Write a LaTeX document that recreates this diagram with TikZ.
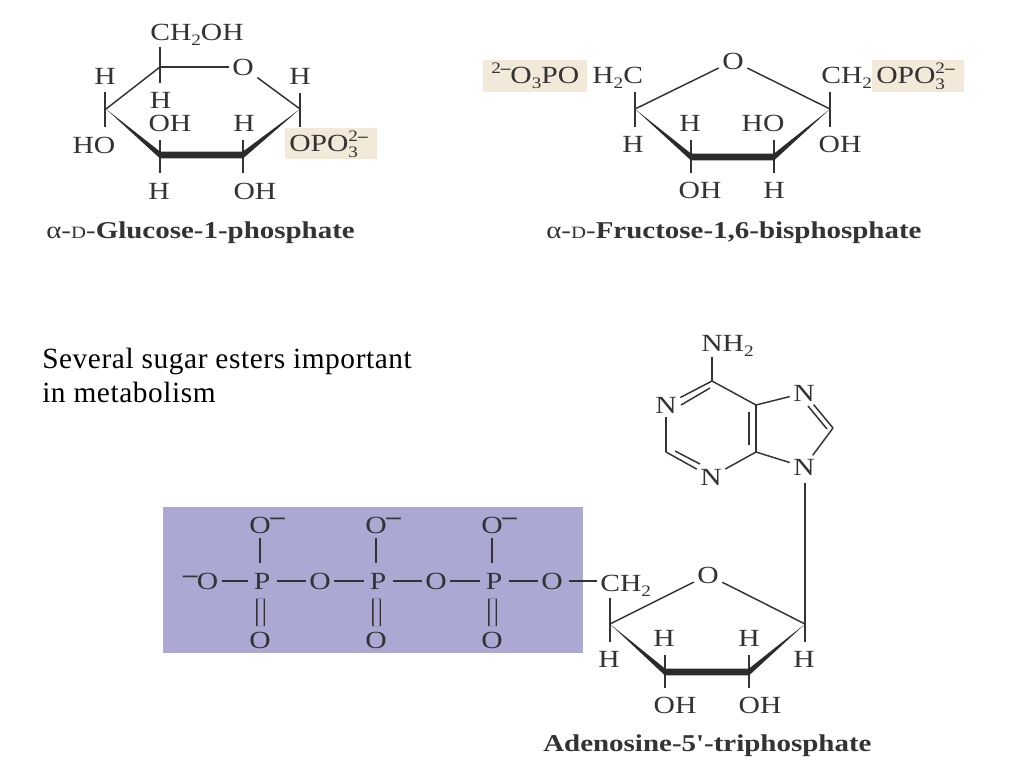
\documentclass[tikz,border=0pt]{standalone}
\usepackage{fontspec}
\setmainfont[FakeStretch=1.2]{Liberation Serif}
\newfontfamily\capfont[LetterSpace=2]{Liberation Serif}
\newfontfamily\plainq[FakeStretch=1.2]{Liberation Serif}
\usetikzlibrary{calc}
\definecolor{ink}{HTML}{333333}
\definecolor{tanbox}{HTML}{F3E9D8}
\definecolor{atpblue}{HTML}{ABA9D3}
\newcommand{\lsub}[1]{\raisebox{-4pt}{\fontsize{12}{12}\selectfont #1}}
\newcommand{\lstack}{\rlap{\raisebox{7.5pt}{\fontsize{12}{12}\selectfont 2\bfseries–}}\raisebox{-4.5pt}{\fontsize{12}{12}\selectfont 3}\hspace{1.15em}}
\newcommand{\lsup}[1]{\raisebox{7.5pt}{\fontsize{12}{12}\selectfont #1}}
\newcommand{\lsmall}[1]{{\fontsize{13}{13}\selectfont #1}}
\tikzset{
  atom/.style={font=\fontsize{18.5}{20}\selectfont, text=ink, inner sep=2.5pt},
  patom/.style={atom, inner sep=4.5pt},
  group/.style={atom, anchor=base west, inner sep=0pt},
  title/.style={font=\fontsize{18.1}{20}\selectfont\bfseries, text=ink, inner sep=0pt, anchor=base west},
  caption/.style={font=\fontsize{22}{24}\selectfont\capfont, text=black, inner sep=0pt, anchor=base west},
  bond/.style={draw=ink, line width=1.1pt},
  band/.style={fill=ink!85!black},
  charge/.style={font=\fontsize{18}{20}\selectfont\bfseries, text=ink, inner sep=0pt, anchor=west}
}
\newcommand{\ringband}[4]{\fill[band] (#1) -- ([yshift=2.6pt]#2) -- ([yshift=2.6pt]#3) -- (#4) -- ([yshift=-2.6pt]#3) -- ([yshift=-2.6pt]#2) -- cycle;}
\begin{document}
\begin{tikzpicture}[x=0.75pt,y=-0.75pt]
\useasboundingbox (0,0) rectangle (1024,768);
% backgrounds
\fill[tanbox] (285,128) rectangle (377,159);
\fill[tanbox] (483,60) rectangle (587,92);
\fill[tanbox] (872,60) rectangle (964,92);
\fill[atpblue] (163,507) rectangle (583,653);

% ---- glucose
\coordinate (g5) at (160,67); \coordinate (g4) at (106,109); \coordinate (g3) at (160,155);
\coordinate (g2) at (243,155); \coordinate (g1) at (300,109);
\coordinate (g5u) at (160,47); \coordinate (g5d) at (160,83);
\coordinate (g1u) at (300,93); \coordinate (g1d) at (300,127);
\coordinate (g4u) at (105,92); \coordinate (g4d) at (105,127);
\coordinate (g3u) at (160,140); \coordinate (g3d) at (160,173);
\coordinate (g2u) at (243,140); \coordinate (g2d) at (243,173);
\node[group] (gch) at (150,40) {CH\lsub{2}OH};
\node[atom] (gO) at (243,67) {O};
\node[atom] (gh1) at (300,76) {H};
\node[atom] (gh4) at (105,76) {H};
\node[atom] (gh5) at (160.5,100) {H};
\node[atom] (goh3) at (170,123) {OH};
\node[atom] (gh2) at (244,123) {H};
\node[atom] (gho) at (94,145) {HO};
\node[group] (gopo) at (289,151) {OPO\lstack};
\node[atom] (gh3) at (159,191) {H};
\node[atom] (goh2) at (255,191) {OH};
\draw[bond] (g5) -- (gO);
\draw[bond] (gO) -- (g1);
\draw[bond] (g5) -- (g4);
\draw[bond] (g5u) -- (g5d);
\draw[bond] (g1u) -- (g1d);
\draw[bond] (g4u) -- (g4d);
\draw[bond] (g3u) -- (g3d);
\draw[bond] (g2u) -- (g2d);
\ringband{g4}{g3}{g2}{g1}
\node[title] (gt) at (46,238) {{\mdseries α-\lsmall{D}-}Glucose-1-phosphate};

% ---- fructose
\coordinate (f5) at (635,109); \coordinate (f1) at (830,109);
\coordinate (f4) at (691,157); \coordinate (f3) at (774,157);
\coordinate (f5u) at (635,92); \coordinate (f5d) at (635,127);
\coordinate (f1u) at (830,92); \coordinate (f1d) at (830,127);
\coordinate (f4u) at (691,140); \coordinate (f4d) at (691,173);
\coordinate (f3u) at (774,140); \coordinate (f3d) at (774,173);
\node[atom] (fO) at (733,61) {O};
\node[group] (fp1) at (491,83) {\lsup{2\bfseries–}O\lsub{3}PO};
\node[group] (fch1) at (592,83) {H\lsub{2}C};
\node[group] (fch2) at (821,83) {CH\lsub{2}};
\node[group] (fp2) at (876,83) {OPO\lstack};
\node[atom] (fh5) at (633,144) {H};
\node[atom] (foh1) at (840,144) {OH};
\node[atom] (fh4) at (690,123) {H};
\node[atom] (fho3) at (763,123) {HO};
\node[atom] (foh4) at (700,190) {OH};
\node[atom] (fh3) at (774,190) {H};
\draw[bond] (f5) -- (fO);
\draw[bond] (fO) -- (f1);
\draw[bond] (f5u) -- (f5d);
\draw[bond] (f1u) -- (f1d);
\draw[bond] (f4u) -- (f4d);
\draw[bond] (f3u) -- (f3d);
\ringband{f5}{f4}{f3}{f1}
\node[title] (ft) at (546,238) {{\mdseries α-\lsmall{D}-}Fructose-1,6-bisphosphate};

% ---- caption
\node[caption] (cap1) at (42,368) {Several sugar esters important};
\node[caption] (cap2) at (42,402) {in metabolism};

% ---- phosphate chain
\node[atom] (ol) at (207.5,581) {O};
\node[charge] (olc) at ([xshift=-18.4pt,yshift=1.5pt]ol.center) {–};
\foreach \n/\px/\ox/\bx in {1/262/260/320, 2/378/376/436, 3/494/492/552}{
  \node[patom] (p\n) at (\px,581) {P};
  \node[atom] (ot\n) at (\ox,525) {O};
  \node[charge] (otc\n) at ([xshift=7.5pt,yshift=3pt]ot\n.center) {–};
  \node[atom] (ob\n) at (\ox,640) {O};
  \node[atom] (oe\n) at (\bx,581) {O};
  \draw[bond, shorten <=1pt, shorten >=3pt] (ot\n) -- (ot\n |- p\n.north);
  \draw[bond, double=atpblue, double distance=4.5pt, line width=1pt, shorten <=2.5pt, shorten >=1.5pt] (ob\n |- p\n.south) ++(0.5,0) -- ([xshift=0.4pt]ob\n.north);
}
\tikzset{chain/.style={bond}}
\draw[chain] (ol) -- (p1);
\draw[chain] (p1) -- (oe1);
\draw[chain] (oe1) -- (p2);
\draw[chain] (p2) -- (oe2);
\draw[chain] (oe2) -- (p3);
\draw[chain] (p3) -- (oe3);

% ---- ribose
\coordinate (a4) at (610,624); \coordinate (a1) at (805,624);
\coordinate (a3) at (665,672); \coordinate (a2) at (749,672);
\coordinate (a4u) at (610,598); \coordinate (a4d) at (610,642);
\coordinate (a1d) at (805,642);
\coordinate (a3u) at (665,655); \coordinate (a3d) at (665,688);
\coordinate (a2u) at (749,655); \coordinate (a2d) at (749,688);
\node[group] (ach) at (600,591) {CH\lsub{2}};
\node[atom] (aO) at (708,575) {O};
\node[atom] (ah4) at (609,659) {H};
\node[atom] (ah1) at (804,659) {H};
\node[atom] (ah3) at (664,638) {H};
\node[atom] (ah2) at (749,638) {H};
\node[atom] (aoh3) at (675,705) {OH};
\node[atom] (aoh2) at (760,705) {OH};
\draw[bond, shorten <=2pt, shorten >=2pt] (oe3) -- (oe3 -| ach.west);
\draw[bond] (a4) -- (aO);
\draw[bond] (aO) -- (a1);
\draw[bond] (a4u) -- (a4d);
\draw[bond] (a3u) -- (a3d);
\draw[bond] (a2u) -- (a2d);
\ringband{a4}{a3}{a2}{a1}
\node[title] (at) at (543,751) {Adenosine-5{\plainq '}-triphosphate};

% ---- adenine
\coordinate (c6) at (712,381); \coordinate (c2) at (666,452);
\coordinate (c4) at (756,452); \coordinate (c5) at (756,405);
\coordinate (c8) at (833,428);
\node[group] (nh2) at (701,351) {NH\lsub{2}};
\node[atom] (n1) at (666,405) {N};
\node[atom] (n3) at (711,477) {N};
\node[atom] (n7) at (804,393) {N};
\node[atom] (n9) at (804,467) {N};
\coordinate (d1a) at (710,388); \coordinate (d1b) at (681,405);
\coordinate (d2a) at (675,451); \coordinate (d2b) at (700,464);
\coordinate (d3a) at (749,412); \coordinate (d3b) at (749,445);
\coordinate (d4a) at (808,406); \coordinate (d4b) at (827,429);
\draw[bond] (c6) -- (c6 |- nh2.south);
\draw[bond] (c6) -- (n1);
\draw[bond] (n1) -- (c2);
\draw[bond] (c2) -- (n3);
\draw[bond] (n3) -- (c4);
\draw[bond] (c4) -- (c5);
\draw[bond] (c5) -- (c6);
\draw[bond] (c5) -- (n7);
\draw[bond] (n7) -- (c8);
\draw[bond] (c8) -- (n9);
\draw[bond] (n9) -- (c4);
\draw[bond] (d1a) -- (d1b);
\draw[bond] (d2a) -- (d2b);
\draw[bond] (d3a) -- (d3b);
\draw[bond] (d4a) -- (d4b);
\draw[bond, shorten <=3.5pt] (a1d |- n9.south) -- (a1d);
\end{tikzpicture}
\end{document}
